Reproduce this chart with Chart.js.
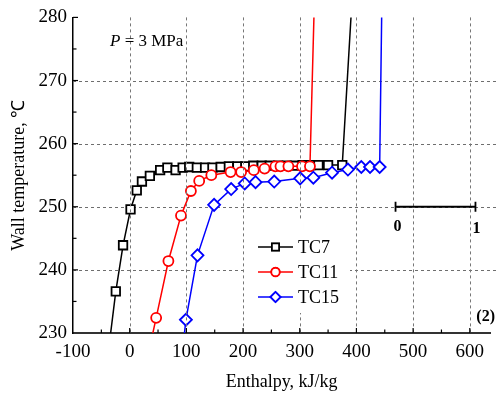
<!DOCTYPE html>
<html>
<head>
<meta charset="utf-8">
<script src="https://cdn.jsdelivr.net/npm/chart.js@4.4.0/dist/chart.umd.min.js"></script>
<style>
  body { margin: 0; background: #fff; }
  #wrap { width: 498px; height: 397px; }
</style>
</head>
<body>
<div id="wrap"><canvas id="chart"></canvas></div>
<script>
// values (enthalpy kJ/kg, wall temperature C)
const tc7Enthalpy = [-37, -24.5, -11.7, 1.5, 12.5, 21.6, 35.6, 53.7, 66.5, 81, 93.4, 105, 118.5, 133, 146, 160.5, 175, 190, 204, 218, 233, 247, 262, 277, 291, 305, 319, 333, 350, 375, 395];
const tc7Temp     = [227.5, 236.6, 243.9, 249.6, 252.6, 254.0, 254.9, 255.8, 256.2, 255.8, 256.2, 256.3, 256.2, 256.2, 256.2, 256.3, 256.4, 256.4, 256.4, 256.5, 256.5, 256.5, 256.5, 256.5, 256.5, 256.6, 256.6, 256.6, 256.6, 256.6, 287];

const tc11Enthalpy = [37, 46.7, 68.3, 90.5, 108, 122.6, 144, 178, 196.6, 219, 238, 257, 266, 280, 304, 318, 328];
const tc11Temp     = [228.4, 232.4, 241.4, 248.6, 252.5, 254.1, 255.0, 255.5, 255.5, 255.8, 256.05, 256.4, 256.4, 256.4, 256.4, 256.4, 290];

const tc15Enthalpy = [93, 99.2, 119.6, 148.9, 179, 203, 222, 255, 300.7, 324, 357, 385, 408.6, 424, 441, 446];
const tc15Temp     = [227, 232.1, 242.3, 250.3, 252.8, 253.7, 253.9, 254.0, 254.5, 254.6, 255.4, 255.9, 256.3, 256.3, 256.3, 290];

const seriesNames = ['TC7', 'TC11', 'TC15'];
const xTicks = { min: -100, max: 636, step: 50 };
const yTicks = { min: 230, max: 280, step: 5 };

const pts = (xs, ys) => xs.map((x, i) => ({ x: x, y: ys[i] }));
const serif = 'Liberation Serif, Times New Roman, serif';

const extras = {
  id: 'extras',
  beforeDatasetsDraw(chart) {
    // horizontal dashed grid
    const ctx = chart.ctx;
    const ys = chart.scales.y;
    const area = chart.chartArea;
    ctx.save();
    ctx.strokeStyle = '#6e6e6e';
    ctx.lineWidth = 1;
    ctx.setLineDash([3, 3]);
    ys.ticks.forEach(t => {
      if (t.value % 10 !== 0 || t.value === yTicks.min || t.value === yTicks.max) return;
      const py = Math.round(ys.getPixelForValue(t.value)) + 0.5;
      ctx.beginPath(); ctx.moveTo(area.left, py); ctx.lineTo(chart.width, py); ctx.stroke();
    });
    ctx.restore();
  },
  afterDraw(chart) {
    const ctx = chart.ctx;
    const xs = chart.scales.x, ys = chart.scales.y;
    const area = chart.chartArea;
    ctx.save();

    // vertical dashed grid
    ctx.strokeStyle = '#777777';
    ctx.lineWidth = 1;
    ctx.setLineDash([3, 3]);
    xs.ticks.forEach(t => {
      if (t.value % 100 !== 0 || t.value === xTicks.min) return;
      const px = Math.round(xs.getPixelForValue(t.value)) + 0.5;
      ctx.beginPath(); ctx.moveTo(px, area.top); ctx.lineTo(px, area.bottom); ctx.stroke();
    });
    ctx.setLineDash([]);

    // inward tick marks
    ctx.strokeStyle = '#000';
    ctx.lineWidth = 1.2;
    xs.ticks.forEach(t => {
      if (t.value === xTicks.min || t.value % 50 !== 0) return;
      const px = xs.getPixelForValue(t.value);
      const len = t.value % 100 === 0 ? 5 : 3.5;
      ctx.beginPath(); ctx.moveTo(px, area.bottom); ctx.lineTo(px, area.bottom - len); ctx.stroke();
    });
    ys.ticks.forEach(t => {
      if (t.value === yTicks.min) return;
      const py = ys.getPixelForValue(t.value);
      const len = t.value % 10 === 0 ? 5 : 3.5;
      ctx.beginPath(); ctx.moveTo(area.left, py); ctx.lineTo(area.left + len, py); ctx.stroke();
    });

    // legend
    ctx.fillStyle = '#fff';
    ctx.fillRect(247, 221, 103, 92);
    chart.data.datasets.forEach((ds, i) => {
      const y = 247 + i * 25;
      ctx.strokeStyle = ds.borderColor;
      ctx.lineWidth = 1.5;
      ctx.beginPath(); ctx.moveTo(258, y); ctx.lineTo(293, y); ctx.stroke();
      Chart.helpers.drawPoint(ctx, {
        pointStyle: ds.pointStyle, radius: ds.pointRadius * 0.85, borderWidth: ds.pointBorderWidth
      }, 275.5, y);
      ctx.fillStyle = '#fff';
      ctx.lineWidth = ds.pointBorderWidth;
      ctx.fill(); ctx.stroke();
      ctx.fillStyle = '#000';
      ctx.font = '18px ' + serif;
      ctx.textBaseline = 'middle';
      ctx.fillText(ds.label, 298, y + 1);
    });

    // pressure note
    ctx.fillStyle = '#000';
    ctx.textBaseline = 'alphabetic';
    ctx.font = 'italic 17px ' + serif;
    ctx.fillText('P', 110, 46);
    const pw = ctx.measureText('P').width;
    ctx.font = '17px ' + serif;
    ctx.fillText(' = 3 MPa', 110 + pw, 46);

    // scale bar 0 - 1
    const by = ys.getPixelForValue(250);
    const bx0 = xs.getPixelForValue(469), bx1 = xs.getPixelForValue(610);
    ctx.strokeStyle = '#000';
    ctx.lineWidth = 1.8;
    ctx.beginPath();
    ctx.moveTo(bx0, by); ctx.lineTo(bx1, by);
    ctx.moveTo(bx0, by - 5); ctx.lineTo(bx0, by + 5);
    ctx.moveTo(bx1, by - 5); ctx.lineTo(bx1, by + 5);
    ctx.stroke();
    ctx.font = 'bold 16px ' + serif;
    ctx.textAlign = 'center';
    ctx.fillText('0', bx0 + 2, by + 24);
    ctx.fillText('1', bx1 + 1, by + 26);

    ctx.textAlign = 'right';
    ctx.fillText('(2)', 495, 321);
    ctx.restore();
  }
};

new Chart(document.getElementById('chart'), {
  type: 'line',
  data: {
    datasets: [
      { label: seriesNames[0], data: pts(tc7Enthalpy, tc7Temp), borderColor: '#000000',
        pointStyle: 'rect', pointRadius: 6, pointBorderWidth: 1.8, order: 3 },
      { label: seriesNames[1], data: pts(tc11Enthalpy, tc11Temp), borderColor: '#ff0000',
        pointStyle: 'circle', pointRadius: 5, pointBorderWidth: 1.8, order: 2 },
      { label: seriesNames[2], data: pts(tc15Enthalpy, tc15Temp), borderColor: '#0000ff',
        pointStyle: 'rectRot', pointRadius: 6, pointBorderWidth: 1.8, order: 1 }
    ].map(d => Object.assign(d, {
      borderWidth: 1.5, pointBackgroundColor: '#ffffff', pointBorderColor: d.borderColor,
      tension: 0, fill: false
    }))
  },
  options: {
    responsive: true,
    maintainAspectRatio: false,
    animation: false,
    layout: { padding: { top: 17, right: 0, left: 0, bottom: 0 } },
    plugins: { legend: { display: false }, tooltip: { enabled: false } },
    scales: {
      x: {
        type: 'linear', min: xTicks.min, max: xTicks.max,
        afterFit: s => { s.height = 64; },
        ticks: {
          stepSize: xTicks.step, includeBounds: false, autoSkip: false, maxRotation: 0, padding: 8,
          color: '#000', font: { family: serif, size: 19 },
          callback: v => (v % 100 === 0 ? v : '')
        },
        grid: { display: false, drawTicks: false },
        border: { display: true, color: '#333', width: 2 },
        title: { display: true, text: 'Enthalpy, kJ/kg', color: '#000', font: { family: serif, size: 18 }, padding: { top: 10 } }
      },
      y: {
        type: 'linear', min: yTicks.min, max: yTicks.max,
        afterFit: s => { s.width = 73; },
        ticks: {
          stepSize: yTicks.step, autoSkip: false, padding: 6,
          color: '#000', font: { family: serif, size: 19 },
          callback: v => (v % 10 === 0 ? v : '')
        },
        grid: { display: false, drawTicks: false },
        border: { display: true, color: '#000', width: 1.5 },
        title: { display: true, text: 'Wall temperature, ℃', color: '#000', font: { family: serif, size: 18 }, padding: { top: 8, bottom: 0 } }
      }
    }
  },
  plugins: [extras]
});
</script>
</body>
</html>
